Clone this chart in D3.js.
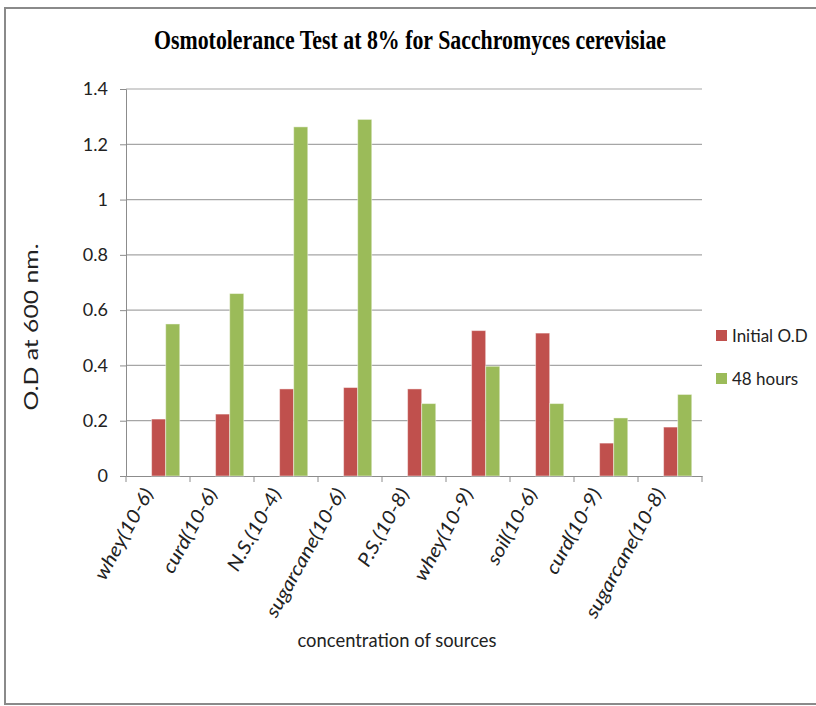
<!DOCTYPE html>
<html>
<head>
<meta charset="utf-8">
<script src="https://cdn.jsdelivr.net/npm/d3@7"></script>
<style>
body{margin:0;background:#fff;}
</style>
</head>
<body>
<script>
var width = 816;
var height = 706;

var categories = ["whey(10-6)","curd(10-6)","N.S.(10-4)","sugarcane(10-6)","P.S.(10-8)","whey(10-9)","soil(10-6)","curd(10-9)","sugarcane(10-8)"];
var initialOD = [0.206,0.224,0.315,0.32,0.315,0.526,0.517,0.119,0.177];
var hours48 = [0.55,0.66,1.263,1.29,0.262,0.397,0.262,0.21,0.295];
var seriesNames = ["Initial O.D","48 hours"];
var yTicks = [0,0.2,0.4,0.6,0.8,1,1.2,1.4];

var colors = ["#C0504D","#9BBB59"];

var svg = d3.select("body")
.append("svg")
.attr("width",width)
.attr("height",height);

// outer frame
svg.append("rect")
.attr("x",5)
.attr("y",8)
.attr("width",840)
.attr("height",696)
.attr("fill","none")
.attr("stroke","#8a8a8a")
.attr("stroke-width",2);

var plotLeft = 126, plotRight = 702, plotTop = 89, plotBottom = 476;

var y = d3.scaleLinear()
.domain([0,1.4])
.range([plotBottom,plotTop]);

var x0 = d3.scaleBand()
.domain(categories)
.range([plotLeft,plotRight])
.padding(0);

var bw = x0.bandwidth();
var x1 = d3.scaleBand()
.domain(seriesNames)
.range([bw*0.4,bw*0.84]);

// gridlines
svg.selectAll(".grid")
.data(yTicks.slice(1))
.enter()
.append("line")
.attr("x1",plotLeft)
.attr("x2",plotRight)
.attr("y1",function(d){ return y(d); })
.attr("y2",function(d){ return y(d); })
.attr("stroke","#a6a6a6")
.attr("stroke-width",1.2);

// y axis
var yAxis = d3.axisLeft(y)
.tickValues(yTicks)
.tickSize(6)
.tickPadding(12)
.tickFormat(function(d){ return d3.format("")(d); });

var gy = svg.append("g")
.attr("transform","translate(" + plotLeft + ",0)")
.call(yAxis);
gy.select(".domain").attr("stroke","#8c8c8c");
gy.selectAll(".tick line").attr("stroke","#8c8c8c");
gy.selectAll("text")
.attr("font-family","Lato, 'Open Sans', sans-serif")
.attr("font-size","18px")
.attr("fill","#222");

// x axis
var xAxis = d3.axisBottom(x0)
.tickValues([])
.tickSizeOuter(0);
var gx = svg.append("g")
.attr("transform","translate(0," + plotBottom + ")")
.call(xAxis);
gx.select(".domain").attr("stroke","#8c8c8c");

var bounds = categories.map(function(c){ return x0(c); }).concat([plotRight]);
svg.selectAll(".xtick")
.data(bounds)
.enter()
.append("line")
.attr("x1",function(d){ return d; })
.attr("x2",function(d){ return d; })
.attr("y1",plotBottom)
.attr("y2",plotBottom + 6)
.attr("stroke","#8c8c8c");

// bars
var rows = categories.map(function(c,i){
	return {name:c, values:[initialOD[i],hours48[i]]};
});

var groups = svg.selectAll(".cat")
.data(rows)
.enter()
.append("g")
.attr("transform",function(d){ return "translate(" + x0(d.name) + ",0)"; });

groups.selectAll("rect")
.data(function(d){ return d.values.map(function(v,j){ return {s:seriesNames[j], v:v, j:j}; }); })
.enter()
.append("rect")
.attr("x",function(d){ return x1(d.s); })
.attr("y",function(d){ return y(d.v); })
.attr("width",x1.bandwidth())
.attr("height",function(d){ return plotBottom - y(d.v); })
.attr("fill",function(d){ return colors[d.j]; })
.attr("stroke","rgba(255,255,255,0.45)")
.attr("stroke-width",1);

// category labels
svg.selectAll(".catLabel")
.data(categories)
.enter()
.append("text")
.attr("transform",function(d){
	return "translate(" + (x0(d) + bw/2 - 4) + "," + (plotBottom + 17) + ") rotate(-61) scale(1.12,1)";
})
.attr("text-anchor","end")
.attr("font-family","Lato, 'Open Sans', sans-serif")
.attr("font-style","italic")
.attr("font-size","19px")
.attr("fill","#222")
.text(function(d){ return d; });

// title
svg.append("text")
.attr("x",410)
.attr("y",49)
.attr("text-anchor","middle")
.attr("font-family","'Liberation Serif', serif")
.attr("font-weight","bold")
.attr("font-size","27px")
.attr("textLength",512)
.attr("lengthAdjust","spacingAndGlyphs")
.attr("fill","#000")
.text("Osmotolerance Test at 8%  for Sacchromyces cerevisiae");

// y label
svg.append("text")
.attr("transform","translate(38,327) rotate(-90)")
.attr("text-anchor","middle")
.attr("font-family","Lato, 'Open Sans', sans-serif")
.attr("font-size","19px")
.attr("textLength",167)
.attr("lengthAdjust","spacingAndGlyphs")
.attr("fill","#222")
.text("O.D at 600 nm.");

// x label
svg.append("text")
.attr("x",397)
.attr("y",647)
.attr("text-anchor","middle")
.attr("font-family","Lato, 'Open Sans', sans-serif")
.attr("font-size","19px")
.attr("textLength",199)
.attr("lengthAdjust","spacingAndGlyphs")
.attr("fill","#222")
.text("concentration of sources");

// legend
var legend = svg.selectAll(".legend")
.data(seriesNames)
.enter()
.append("g")
.attr("transform",function(d,i){ return "translate(716," + (330 + i*43) + ")"; });

legend.append("rect")
.attr("width",11)
.attr("height",11)
.attr("fill",function(d,i){ return colors[i]; });

legend.append("text")
.attr("x",16)
.attr("y",6)
.attr("dy","0.35em")
.attr("font-family","Lato, 'Open Sans', sans-serif")
.attr("font-size","17px")
.attr("fill","#222")
.text(function(d){ return d; });
</script>
</body>
</html>
